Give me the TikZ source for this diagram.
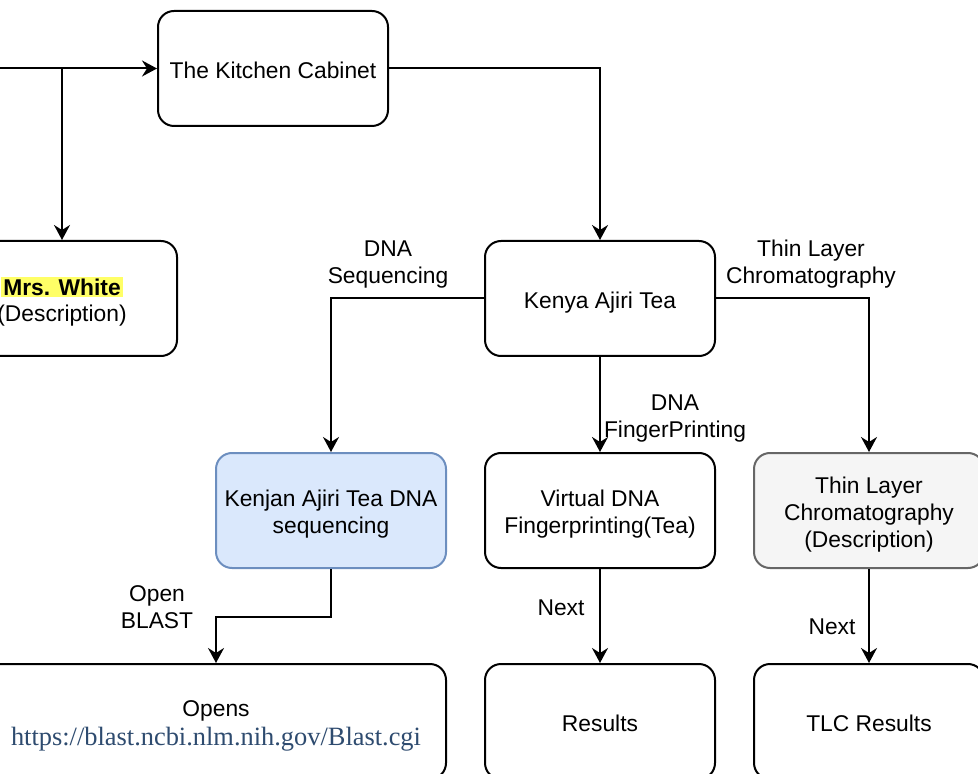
\documentclass[tikz,border=0pt]{standalone}
\usepackage{fontspec}
\setmainfont{Liberation Sans}
\newfontfamily\urlserif{Liberation Serif}
\usetikzlibrary{arrows.meta,calc}
\definecolor{blueFill}{HTML}{DAE8FC}
\definecolor{blueLine}{HTML}{6C8EBF}
\definecolor{grayFill}{HTML}{F5F5F5}
\definecolor{grayLine}{HTML}{666666}
\definecolor{hl}{HTML}{FFFF66}
\definecolor{urlcol}{HTML}{2E4B6F}
\newcommand{\lblfont}{\fontsize{11.4pt}{13.5pt}\selectfont}
\newcommand{\tS}{\rule{0pt}{1.1em}}
\newcommand{\bS}{\rule[-0.255em]{0pt}{0pt}}
\begin{document}
\begin{tikzpicture}[x=0.5pt,y=-0.5pt,
  box/.style={draw, line width=1pt, rounded corners=8pt, minimum width=115pt, minimum height=57.5pt, align=center, font=\lblfont, inner sep=0pt},
  arr/.style={line width=1pt, -{Stealth[length=7.5pt,width=8pt,inset=2.5pt]}},
  elabel/.style={align=center, font=\lblfont, inner sep=0pt}]
\useasboundingbox (0,0) rectangle (978,774);
\node[box] (kit) at (273,68.5) {\tS The Kitchen Cabinet\bS};
\node[box] (mrs) at (62,298.5) {\tS\setlength{\fboxsep}{1pt}\colorbox{hl}{\textbf{Mrs. White}}\\[-0.5pt](Description)\bS};
\node[box] (ken) at (600,298.5) {\tS Kenya Ajiri Tea\bS};
\node[box, fill=blueFill, draw=blueLine] (blue) at (331,510.5) {\tS Kenjan Ajiri Tea DNA\\sequencing\bS};
\node[box] (virt) at (600,510.5) {\tS Virtual DNA\\Fingerprinting(Tea)\bS};
\node[box, fill=grayFill, draw=grayLine] (thin) at (869,510.5) {\tS Thin Layer\\Chromatography\\(Description)\bS};
\node[box, minimum width=230pt] (opens) at (216,721.5) {\tS Opens\\[1pt]{\urlserif\fontsize{13.2pt}{15pt}\selectfont\color{urlcol}https://blast.ncbi.nlm.nih.gov/Blast.cgi}\bS};
\node[box] (res) at (600,721.5) {\tS Results\bS};
\node[box] (tlc) at (869,721.5) {\tS TLC Results\bS};

\coordinate (src) at (-20,68.5);
\coordinate (br) at (62,68.5);
\coordinate (bend) at (331,617);
\draw[arr] (src) -- (kit.west);
\draw[arr] (br) -- (mrs.north);
\draw[arr] (kit.east) -| (ken.north);
\draw[arr] (ken.west) -| (blue.north);
\draw[arr] (ken.south) -- (virt.north);
\draw[arr] (ken.east) -| (thin.north);
\draw[arr] (blue.south) -- (bend) -| (opens.north);
\draw[arr] (virt.south) -- (res.north);
\draw[arr] (thin.south) -- (tlc.north);

\node[elabel] (l1) at (388,260) {\tS DNA\\Sequencing\bS};
\node[elabel] (l2) at (811,260) {\tS Thin Layer\\Chromatography\bS};
\node[elabel] (l3) at (675,414) {\tS DNA\\FingerPrinting\bS};
\node[elabel] (l4) at (157,605.5) {\tS Open\\BLAST\bS};
\node[elabel] (l5) at (561,606) {\tS Next\bS};
\node[elabel] (l6) at (832,625) {\tS Next\bS};
\end{tikzpicture}
\end{document}
